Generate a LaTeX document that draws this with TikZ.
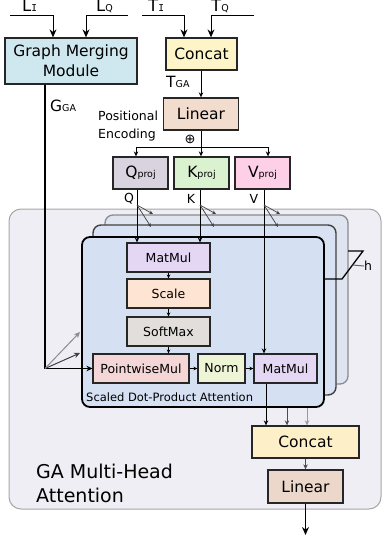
\documentclass[tikz,border=0pt]{standalone}
\usepackage{fontspec}
\setmainfont{DejaVu Sans}
\newfontfamily\monof{DejaVu Sans Mono}
\usetikzlibrary{arrows.meta}
\definecolor{cgmm}{HTML}{CFE8F0}
\definecolor{ccat}{HTML}{FDF4C8}
\definecolor{clin}{HTML}{F2DCCD}
\definecolor{cq}{HTML}{D9D3E0}
\definecolor{ck}{HTML}{DAF2D0}
\definecolor{cv}{HTML}{FDD0E8}
\definecolor{couter}{HTML}{EFEEF4}
\definecolor{cla}{HTML}{DFE5F0}
\definecolor{clb}{HTML}{D9E2F2}
\definecolor{clc}{HTML}{D5E0F2}
\definecolor{cmm}{HTML}{E3D7F3}
\definecolor{cscl}{HTML}{FEE4D2}
\definecolor{csmx}{HTML}{E1DEDB}
\definecolor{cpwm}{HTML}{F4D6D6}
\definecolor{cnrm}{HTML}{EEF5D6}
\definecolor{ccatb}{HTML}{FDF0C8}
\definecolor{clinb}{HTML}{EBD8CB}
\newcommand{\sbs}[1]{{\fontsize{9.5}{10}\selectfont #1}}
\begin{document}
\begin{tikzpicture}[x=1pt,y=-1pt,
  box/.style={draw=black!85,line width=1.3pt,inner sep=0pt,align=center,font=\fontsize{15.5}{20}\selectfont},
  sbox/.style={draw=black!85,line width=1.1pt,inner sep=0pt,font=\fontsize{12.5}{14}\selectfont},
  layer/.style={rounded corners=8pt,inner sep=0pt},
  lbl/.style={inner sep=0pt,font=\fontsize{15.5}{17}\selectfont},
  tlbl/.style={inner sep=0pt,font=\fontsize{16.5}{17}\selectfont},
  slbl/.style={inner sep=0pt,font=\fontsize{12.5}{14}\selectfont},
  bigarr/.style={-{Stealth[length=8pt,width=7pt]},line width=1pt},
  marr/.style={-{Stealth[length=6pt,width=5.5pt]},line width=1pt},
  arr/.style={-{Stealth[length=5pt,width=4.5pt]},line width=0.9pt},
  tiny/.style={-{Stealth[length=4pt,width=3.5pt]},line width=0.7pt},
]
\clip (0,0) rectangle (382,541);
% top inputs
\node[tlbl,anchor=base west] (li) at (22,11) {L\sbs{\monof I}};
\node[tlbl,anchor=base west] (lq) at (96,11) {L\sbs{Q}};
\node[tlbl,anchor=base west] (ti) at (148,11) {T\sbs{\monof I}};
\node[tlbl,anchor=base west] (tq) at (211,11) {T\sbs{Q}};
\node[box,fill=cgmm,minimum width=132pt,minimum height=46pt] (gmm) at (71,61) {Graph Merging\\Module};
\node[box,fill=ccat,minimum width=71pt,minimum height=32pt] (cat1) at (201.5,54) {Concat};
\node[box,fill=clin,minimum width=75pt,minimum height=32pt] (lin1) at (201,114) {Linear};
\coordinate (lis) at (10,15);  \coordinate (lib) at (53,15);
\coordinate (lqs) at (128,15); \coordinate (lqb) at (86,15);
\coordinate (tis) at (142,15); \coordinate (tib) at (184,15);
\coordinate (tqs) at (254,15); \coordinate (tqb) at (211,15);
\draw[bigarr] (lis) -- (lib) -- (lib |- gmm.north);
\draw[bigarr] (lqs) -- (lqb) -- (lqb |- gmm.north);
\draw[bigarr] (tis) -- (tib) -- (tib |- cat1.north);
\draw[bigarr] (tqs) -- (tqb) -- (tqb |- cat1.north);
\draw[arr] (cat1.south -| lin1.north) -- (lin1.north);
\node[lbl,anchor=west] (tga) at (166,82) {T\sbs{GA}};
\node[lbl,anchor=west] (gga) at (50,106) {G\sbs{GA}};
\node[slbl,anchor=west,align=left,font=\fontsize{12.5}{18}\selectfont] (pe) at (98,126) {Positional\\Encoding};
\node[inner sep=0pt,font=\fontsize{13}{13}\selectfont] (plus) at (190,139) {⊕};
% projections
\node[box,fill=cq,minimum width=55pt,minimum height=32pt] (qp) at (140.5,173) {Q\sbs{proj}};
\node[box,fill=ck,minimum width=55pt,minimum height=32pt] (kp) at (201.5,173) {K\sbs{proj}};
\node[box,fill=cv,minimum width=55pt,minimum height=32pt] (vp) at (262.5,173) {V\sbs{proj}};
\coordinate (sp) at (201,147);
\coordinate (qa) at (136,147); \coordinate (va) at (268,147);
\draw[line width=1pt] (lin1.south) -- (sp);
\draw[arr] (sp) -- (qa) -- (qa |- qp.north);
\draw[arr] (sp) -- (sp |- kp.north);
\draw[arr] (sp) -- (va) -- (va |- vp.north);
% outer block
\node[draw=black!35,fill=couter,rounded corners=12pt,line width=1pt,minimum width=372pt,minimum height=300pt,inner sep=0pt] (mha) at (195,359) {};
\node[inner sep=0pt,anchor=north west,align=left,font=\fontsize{19}{24}\selectfont] (ga) at (36,464) {GA Multi-Head\\Attention};
% stacked layers
\node[layer,draw=black!45,line width=1.3pt,fill=cla,minimum width=243pt,minimum height=169pt] (l3) at (226.5,299.5) {};
\coordinate (o3) at (307,0);
\node[box,fill=ccatb,minimum width=107pt,minimum height=32pt] (cat2) at (305.5,442) {Concat};
\draw[arr,black!40] (l3.south -| o3) -- (cat2.north -| o3);
\node[layer,draw=black!75,line width=1.4pt,fill=clb,minimum width=243pt,minimum height=170pt] (l2) at (214.5,310) {};
\coordinate (o2) at (287,0);
\draw[arr,black!70] (l2.south -| o2) -- (cat2.north -| o2);
\node[layer,draw=black,line width=1.8pt,fill=clc,minimum width=242pt,minimum height=170pt] (l1) at (203,322) {};
\node[inner sep=0pt,anchor=base west,font=\fontsize{11.5}{12}\selectfont] (sdpa) at (86,401) {Scaled Dot-Product Attention};
% inner nodes
\node[sbox,fill=cmm,minimum width=83pt,minimum height=29pt] (m1) at (168.5,257.5) {MatMul};
\node[sbox,fill=cscl,minimum width=83pt,minimum height=29pt] (sc) at (168.5,293.5) {Scale};
\node[sbox,fill=csmx,minimum width=83pt,minimum height=29pt] (sm) at (168.5,331.5) {SoftMax};
\node[sbox,fill=cpwm,minimum width=96pt,minimum height=29pt] (pw) at (141,368.5) {PointwiseMul};
\node[sbox,fill=cnrm,minimum width=47pt,minimum height=29pt] (nm) at (221.5,368.5) {Norm};
\node[sbox,fill=cmm,minimum width=63pt,minimum height=29pt] (m2) at (285.5,368.5) {MatMul};
\draw[tiny] (m1.south) -- (sc.north);
\draw[tiny] (sc.south) -- (sm.north);
\draw[tiny] (sm.south) -- (sm.south |- pw.north);
\draw[tiny] (pw.east) -- (nm.west);
\draw[tiny] (nm.east) -- (m2.west);
% h bracket
\coordinate (h1) at (342,279); \coordinate (h2) at (363,251); \coordinate (h3) at (348,251);
\coordinate (ht) at (352.5,265);
\draw[line width=1.3pt] (l1.east |- h1) -- (h1) -- (h2) -- (h3);
\node[slbl,anchor=west] (hl) at (364,266) {h};
\draw[line width=1pt,black!60] (ht) -- (hl.west);
% G_GA path
\coordinate (gb) at (45,368.5);
\coordinate (g2) at (80,353); \coordinate (g3) at (80,332);
\draw[marr,line width=1.2pt] (gmm.south -| gb) -- (gb) -- (pw.west);
\draw[marr,black!75] (gb) -- (g2);
\draw[marr,black!45] (gb) -- (g3);
% Q K V
\foreach \n/\x in {q/137,k/200,v/264}{
  \coordinate (\n b) at (\x,205);
  \coordinate (\n e2) at (\x+16,214);
  \coordinate (\n e3) at (\x+14,227);
}
\draw[arr] (qb |- qp.south) -- (qb |- m1.north);
\draw[arr] (kb |- kp.south) -- (kb |- m1.north);
\draw[arr] (vb |- vp.south) -- (vb |- m2.north);
\foreach \n in {q,k,v}{
  \draw[tiny,black!75] (\n b) -- (\n e2);
  \draw[tiny,black!75] (\n b) -- (\n e3);
}
\node[slbl] (ql) at (129,199) {Q};
\node[slbl] (kl) at (191,199) {K};
\node[slbl] (vl) at (254,199) {V};
% outputs
\coordinate (o1) at (266,0);
\draw[arr] (m2.south -| o1) -- (cat2.north -| o1);
\node[box,fill=clinb,minimum width=75pt,minimum height=33pt] (lin2) at (305.5,486.5) {Linear};
\draw[arr,black!70] (cat2.south) -- (lin2.north);
\coordinate (out) at (305.5,535);
\draw[bigarr] (lin2.south) -- (out);
\end{tikzpicture}
\end{document}
